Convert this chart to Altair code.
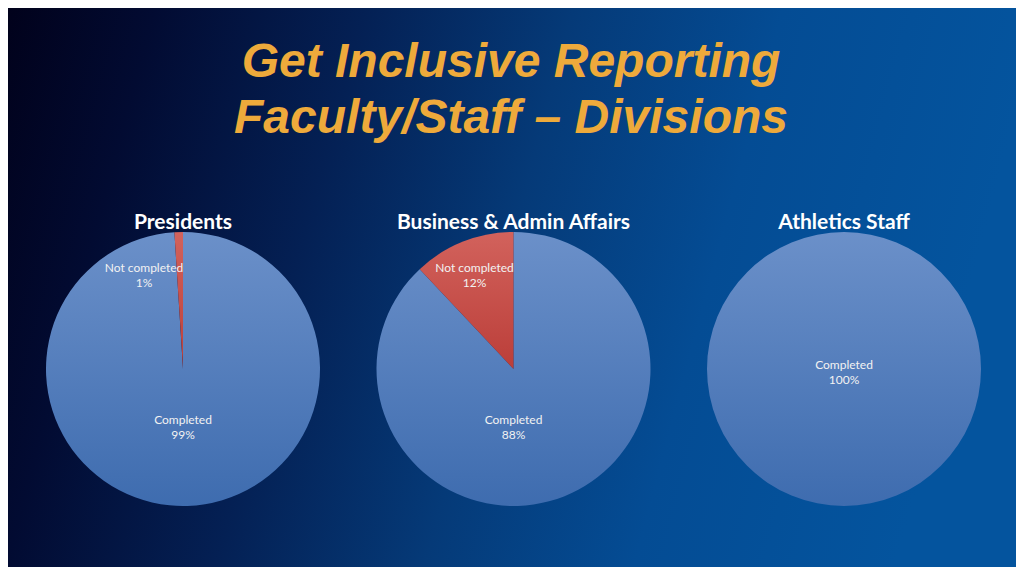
import altair as alt
import pandas as pd

# ---- data ----
title_lines = ["Get Inclusive Reporting", "Faculty/Staff \u2013 Divisions"]
divisions = ["Presidents", "Business & Admin Affairs", "Athletics Staff"]
categories = ["Completed", "Not completed"]
completed = [99, 88, 100]
not_completed = [1, 12, 0]

rows = []
for d, c, n in zip(divisions, completed, not_completed):
    rows.append({"division": d, "category": categories[0], "value": c})
    rows.append({"division": d, "category": categories[1], "value": n})
df = pd.DataFrame(rows)
titles_df = pd.DataFrame({"division": divisions})

W, H = 1008, 559
R = 137
CY = 361

x_scale = alt.Scale(type="point", domain=divisions, range=[175, 836], padding=0)
theta_scale = alt.Scale(domain=[0, 1], range=[0, 6.283185307])
r_scale = alt.Scale(domain=[0, 1], range=[0, R])

base = alt.Chart(df).transform_window(
    cum="sum(value)", groupby=["division"], sort=[{"field": "category"}], frame=[None, 0]
).transform_calculate(
    start="(datum.cum - datum.value) / 100",
    end="datum.cum / 100",
)

bg = alt.Chart(titles_df).transform_filter("datum.division == 'Presidents'").mark_rect(
    color=alt.LinearGradient(
        gradient="linear",
        x1=0, y1=0, x2=1, y2=0.15,
        stops=[
            alt.GradientStop(offset=0, color="#01011a"),
            alt.GradientStop(offset=0.15, color="#020b32"),
            alt.GradientStop(offset=0.35, color="#042054"),
            alt.GradientStop(offset=0.55, color="#053a78"),
            alt.GradientStop(offset=0.75, color="#044c94"),
            alt.GradientStop(offset=1, color="#04549e"),
        ],
    )
).encode(x=alt.value(-8), x2=alt.value(W + 8), y=alt.value(-8), y2=alt.value(H + 8))

title = alt.Chart(titles_df).transform_filter("datum.division == 'Presidents'").mark_text(
    font="Liberation Sans", fontSize=48, fontWeight="bold", fontStyle="italic",
    color="#EEAA3B", align="center", baseline="alphabetic", lineHeight=56,
).encode(x=alt.value(503), y=alt.value(69), text=alt.value(title_lines))

pie_titles = alt.Chart(titles_df).mark_text(
    font="Lato", fontSize=21, fontWeight="bold", color="#ffffff",
    align="center", baseline="alphabetic",
).encode(
    x=alt.X("division:N", scale=x_scale, axis=None),
    y=alt.value(221),
    text="division:N",
)

blue = alt.LinearGradient(
    gradient="linear", x1=0, y1=0, x2=0, y2=1,
    stops=[alt.GradientStop(offset=0, color="#6b90c9"),
           alt.GradientStop(offset=1, color="#3e6caf")],
)
red = alt.LinearGradient(
    gradient="linear", x1=0, y1=0, x2=0, y2=1,
    stops=[alt.GradientStop(offset=0, color="#d2625c"),
           alt.GradientStop(offset=1, color="#bb3e39")],
)

def slices(cat, fill):
    return base.transform_filter(
        f"datum.category == '{cat}' && datum.value > 0"
    ).mark_arc(outerRadius=R, color=fill).encode(
        x=alt.X("division:N", scale=x_scale, axis=None),
        y=alt.value(CY),
        theta=alt.Theta("start:Q", scale=theta_scale),
        theta2="end:Q",
    )

labels = base.transform_filter("datum.value > 0").transform_calculate(
    mid="(datum.start + datum.end) / 2",
    lt="datum.category == 'Completed' ? 0.5 : min(datum.mid, 0.939)",
    lr="datum.category == 'Completed' ? (datum.value >= 100 ? 0 : 0.4) : 0.76",
    label="[datum.category, datum.value + '%']",
).mark_text(
    font="Lato", fontSize=12, color="#f2f2f2", align="center", baseline="middle",
    lineHeight=15, dy=-4,
).encode(
    x=alt.X("division:N", scale=x_scale, axis=None),
    y=alt.value(CY),
    theta=alt.Theta("lt:Q", scale=theta_scale),
    radius=alt.Radius("lr:Q", scale=r_scale),
    text="label:N",
)

chart = alt.layer(
    bg, title, pie_titles,
    slices("Completed", blue), slices("Not completed", red),
    labels,
).properties(
    width=W, height=H, padding=0,
    autosize=alt.AutoSizeParams(type="none"),
).configure_view(stroke=None).configure(background="#020216")

chart.save("out.html", embed_options={"renderer": "svg", "actions": False})
